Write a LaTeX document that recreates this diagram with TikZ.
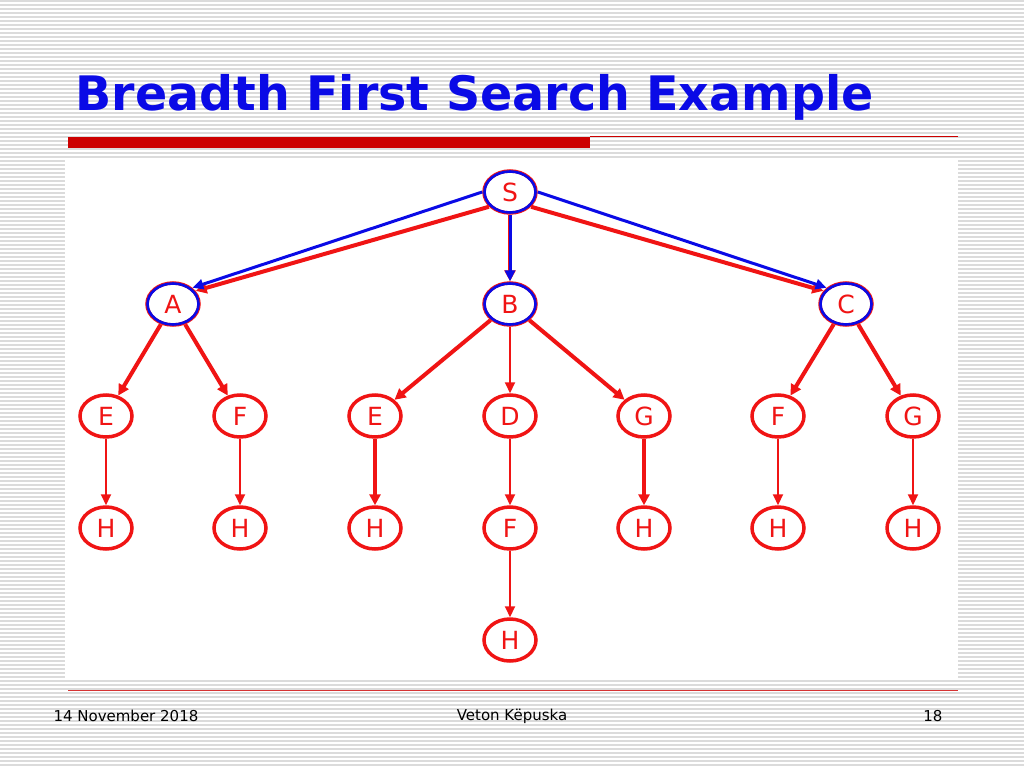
\documentclass[tikz,border=0pt]{standalone}
\usepackage{fontspec}
\setmainfont{DejaVu Sans}
\usetikzlibrary{arrows.meta,shapes.geometric}
\definecolor{tred}{RGB}{240,20,20}
\definecolor{tblue}{RGB}{10,10,230}
\definecolor{bar}{RGB}{204,0,0}
\tikzset{
 nd/.style={ellipse, draw=tred, line width=3.5pt, minimum width=52pt, minimum height=42pt, inner sep=0pt, text=tred, font=\fontsize{25}{25}\selectfont},
 rd/.style={draw=tred, line width=4pt, -{Triangle[length=11pt,width=11pt]}},
 rt/.style={draw=tred, line width=2pt, -{Triangle[length=11pt,width=10pt]}},
 bl/.style={draw=tblue, line width=3pt, -{Triangle[length=11pt,width=10pt]}},
}
\begin{document}
\begin{tikzpicture}[x=1pt,y=-1pt]
\useasboundingbox (0,0) rectangle (1024,768);
\fill[white] (0,0) rectangle (1024,768);
\foreach \i in {0,...,191} {\draw[black!14, line width=1.5pt] (0,\i*4+1) -- (1024,\i*4+1);}
\fill[white] (65,160) rectangle (958,680);
\node[anchor=west, text=tblue, font=\fontsize{47.5}{48}\selectfont\bfseries] (title) at (72,97) {Breadth First Search Example};
\fill[bar] (68,137) rectangle (590,148);
\draw[bar, line width=0.8pt] (590,136) -- (958,136);
\draw[bar!80, line width=0.8pt] (68,690) -- (958,690);
\node[anchor=west, font=\fontsize{15}{15}\selectfont] (date) at (50,716) {14 November 2018};
\node[font=\fontsize{15}{15}\selectfont] (auth) at (512,716) {Veton Këpuska};
\node[anchor=east, font=\fontsize{15}{15}\selectfont] (pg) at (946,716) {18};
% nodes
\node[nd] (S) at (510,192) {S};
\node[nd] (A) at (173,304) {A};
\node[nd] (B) at (510,304) {B};
\node[nd] (C) at (846,304) {C};
\node[nd] (E1) at (106,416) {E};
\node[nd] (F1) at (240,416) {F};
\node[nd] (E2) at (375,416) {E};
\node[nd] (D) at (510,416) {D};
\node[nd] (G1) at (644,416) {G};
\node[nd] (F2) at (778,416) {F};
\node[nd] (G2) at (913,416) {G};
\node[nd] (H1) at (106,528) {H};
\node[nd] (H2) at (240,528) {H};
\node[nd] (H3) at (375,528) {H};
\node[nd] (F3) at (510,528) {F};
\node[nd] (H4) at (644,528) {H};
\node[nd] (H5) at (778,528) {H};
\node[nd] (H6) at (913,528) {H};
\node[nd] (H7) at (510,640) {H};
% red edges
\draw[rd] (S.215) -- (A.30);
\draw[rd] (S.325) -- (C.150);
\draw[rd] (S) -- (B);
\draw[rd] (A) -- (E1);
\draw[rd] (A) -- (F1);
\draw[rd] (B) -- (E2);
\draw[rt] (B) -- (D);
\draw[rd] (B) -- (G1);
\draw[rd] (C) -- (F2);
\draw[rd] (C) -- (G2);
\draw[rt] (E1) -- (H1);
\draw[rt] (F1) -- (H2);
\draw[rd] (E2) -- (H3);
\draw[rt] (D) -- (F3);
\draw[rd] (G1) -- (H4);
\draw[rt] (F2) -- (H5);
\draw[rt] (G2) -- (H6);
\draw[rt] (F3) -- (H7);
% blue overlay
\foreach \n in {S,A,B,C} {\draw[tblue, line width=2.6pt] (\n.center) ellipse [x radius=25.5pt, y radius=20.5pt];}
\draw[bl] (S.180) -- (A.40);
\draw[bl] (S.0) -- (C.140);
\draw[bl] (S.south) -- (B.north);
\end{tikzpicture}
\end{document}
